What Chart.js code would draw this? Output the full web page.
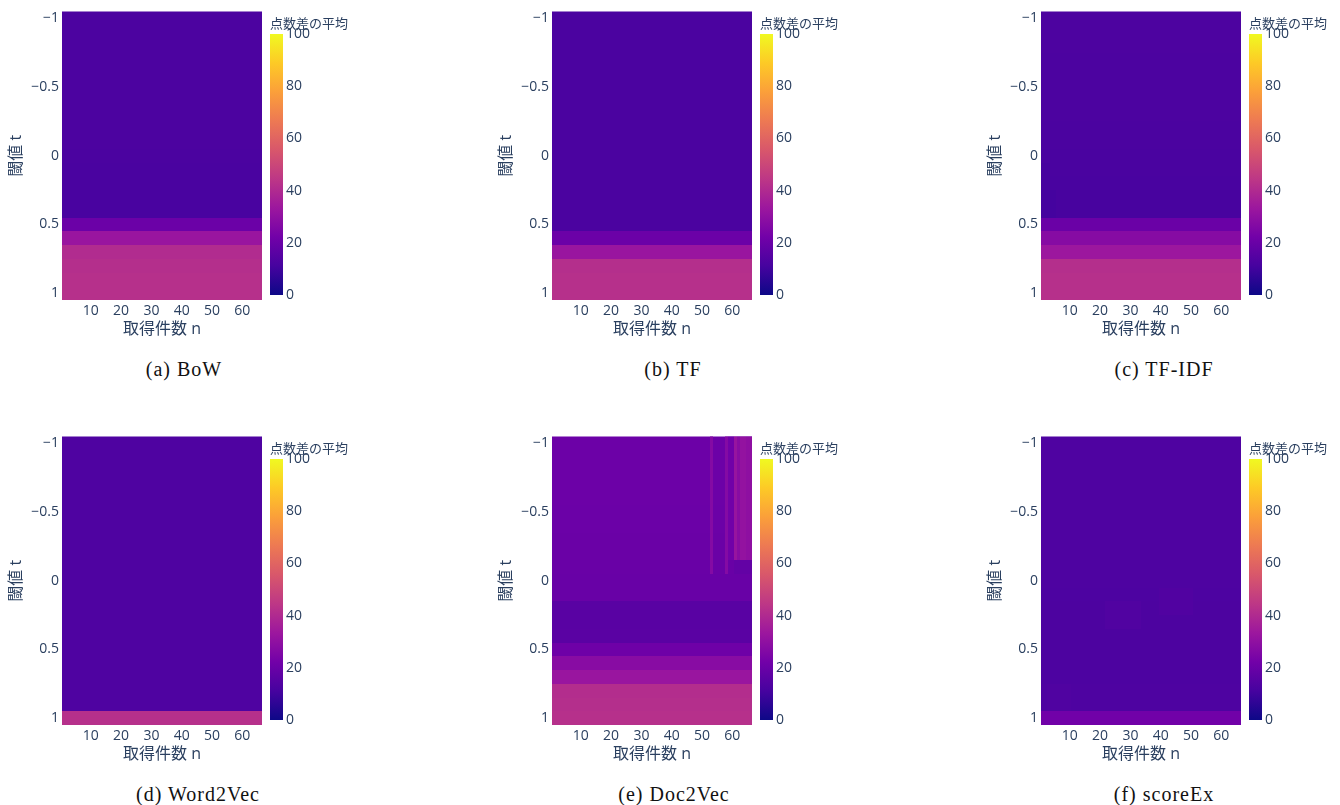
<!DOCTYPE html>
<html lang="ja">
<head>
<meta charset="utf-8">
<title>点数差の平均</title>
<script src="https://cdn.jsdelivr.net/npm/chart.js@4.4.1/dist/chart.umd.min.js"></script>
<style>
  html, body { margin: 0; padding: 0; background: #fff; }
  #page { position: relative; width: 1340px; height: 805px; overflow: hidden; }
  #page canvas { position: absolute; }
  .caption {
    position: absolute; width: 300px; text-align: center;
    font-family: "Liberation Serif", "DejaVu Serif", serif;
    font-size: 20px; line-height: 24px; letter-spacing: 1px; color: #111;
  }
</style>
</head>
<body>
<div id="page"></div>
<script>
// threshold t (rows) and retrieved count n (columns 1..66)
const thresholds = [-1, -0.9, -0.8, -0.7, -0.6, -0.5, -0.4, -0.3, -0.2, -0.1, 0,
                    0.1, 0.2, 0.3, 0.4, 0.5, 0.6, 0.7, 0.8, 0.9, 1];
const nFirst = 1;
const nLast = 66;
const xTicks = [10, 20, 30, 40, 50, 60];
const yTicks = [-1, -0.5, 0, 0.5, 1];
const colorTicks = [0, 20, 40, 60, 80, 100];

const captions = ['(a) BoW', '(b) TF', '(c) TF-IDF', '(d) Word2Vec', '(e) Doc2Vec', '(f) scoreEx'];

// mean score difference per threshold row
const bowRows      = [12.6, 12.6, 12.6, 12.6, 12.6, 12.6, 12.6, 12.6, 12.5, 12.5, 12.4,
                      12.2, 12.0, 11.9, 11.8, 20.5, 32.5, 40.5, 41.5, 42, 42];
const tfRows       = [12.3, 12.3, 12.3, 12.3, 12.3, 12.3, 12.3, 12.3, 12.3, 12.3, 12.3,
                      12.3, 12.3, 12.3, 12.3, 12.3, 20.5, 32.5, 41.5, 42, 42];
const tfidfRows    = [12.8, 12.8, 12.8, 12.7, 12.7, 12.6, 12.6, 12.5, 12.4, 12.3, 12.2,
                      12.0, 11.8, 11.6, 11.6, 20.3, 27.5, 33.5, 41.5, 42, 42];
const word2vecRows = [13.4, 13.4, 13.4, 13.4, 13.4, 13.4, 13.4, 13.4, 13.4, 13.4, 13.4,
                      13.4, 13.4, 13.4, 13.4, 13.4, 13.4, 13.4, 13.4, 13.4, 42];
const doc2vecRows  = [20.8, 20.8, 20.8, 20.7, 20.6, 20.5, 20.4, 20.3, 20.2, 20.0, 19.8,
                      19.6, 16.0, 16.0, 16.2, 21.3, 28.0, 32.5, 41.0, 41.5, 42];
const scoreExRows  = [13.5, 13.5, 13.5, 13.5, 13.4, 13.4, 13.4, 13.3, 13.3, 13.2, 13.2,
                      13.0, 12.9, 12.8, 12.8, 12.8, 12.9, 13.0, 13.1, 13.2, 22];

// cells that differ from their row: [nFrom, nTo, tFrom, tTo, value]
const doc2vecPatches = [
  [53, 53, -1, -0.1, 27], [58, 58, -1, -0.1, 27],
  [59, 60, -1, -0.2, 22], [61, 61, -1, -0.2, 32], [62, 62, -1, -0.2, 28],
  [63, 64, -1, -0.2, 31], [65, 66, -1, -0.2, 29.5], [61, 66, -0.1, -0.1, 18.5]
];
const tfidfPatches = [[1, 5, 0.3, 0.4, 11.0], [1, 3, 0.1, 0.2, 11.3]];
const scoreExPatches = [[22, 33, 0.2, 0.3, 13.8], [40, 50, 0.1, 0.2, 13.9], [3, 10, 0.8, 0.9, 13.7]];

const panelRows = [bowRows, tfRows, tfidfRows, word2vecRows, doc2vecRows, scoreExRows];
const panelPatches = [[], [], tfidfPatches, [], doc2vecPatches, scoreExPatches];
const panelOrigins = [[0, 0], [490, 0], [979, 0], [0, 425], [490, 425], [979, 425]];
const captionCenters = [[184, 369], [673, 369], [1164, 369], [198, 794], [674, 794], [1164, 794]];

const plasmaStops = ['#0d0887', '#46039f', '#7201a8', '#9c179e', '#bd3786',
                     '#d8576b', '#ed7953', '#fb9f3a', '#fdca26', '#f0f921'];
const fontFamily = '"Open Sans", "Noto Sans CJK JP", sans-serif';
const fontColor = '#2a3f5f';

function hexToRgb(h) {
  return [1, 3, 5].map(i => parseInt(h.slice(i, i + 2), 16));
}
function plasma(v) {
  const t = Math.max(0, Math.min(1, v / 100)) * (plasmaStops.length - 1);
  const i = Math.min(Math.floor(t), plasmaStops.length - 2);
  const f = t - i;
  const a = hexToRgb(plasmaStops[i]), b = hexToRgb(plasmaStops[i + 1]);
  const c = a.map((av, k) => Math.round(av + (b[k] - av) * f));
  return `rgb(${c[0]},${c[1]},${c[2]})`;
}

function heatmapPlugin(rows, patches) {
  return {
    id: 'heatmap',
    beforeDatasetsDraw(chart) {
      const { ctx, chartArea, scales: { x, y } } = chart;
      ctx.save();
      ctx.beginPath();
      ctx.rect(chartArea.left, chartArea.top, chartArea.width, chartArea.height);
      ctx.clip();
      const cell = (n0, n1, t0, t1, v) => {
        const xa = Math.round(x.getPixelForValue(n0 - 0.5));
        const xb = Math.round(x.getPixelForValue(n1 + 0.5));
        const ya = Math.round(y.getPixelForValue(t0 - 0.05));
        const yb = Math.round(y.getPixelForValue(t1 + 0.05));
        ctx.fillStyle = plasma(v);
        ctx.fillRect(Math.min(xa, xb), Math.min(ya, yb), Math.abs(xb - xa), Math.abs(yb - ya));
      };
      rows.forEach((v, i) => cell(nFirst, nLast, thresholds[i], thresholds[i], v));
      patches.forEach(p => cell(p[0], p[1], p[2], p[3], p[4]));
      ctx.restore();
    }
  };
}

const colorbarFill = {
  id: 'colorbarFill',
  beforeDatasetsDraw(chart) {
    const { ctx, chartArea: a, scales: { y } } = chart;
    const g = ctx.createLinearGradient(0, y.getPixelForValue(0), 0, y.getPixelForValue(100));
    plasmaStops.forEach((c, i) => g.addColorStop(i / (plasmaStops.length - 1), c));
    ctx.fillStyle = g;
    ctx.fillRect(a.left, a.top, a.width, a.height);
  }
};

function addCanvas(left, top, w, h) {
  const c = document.createElement('canvas');
  c.width = w; c.height = h;
  c.style.left = left + 'px'; c.style.top = top + 'px';
  c.style.width = w + 'px'; c.style.height = h + 'px';
  document.getElementById('page').appendChild(c);
  return c;
}

const tickFont = { family: fontFamily, size: 14 };
const titleFont = { family: fontFamily, size: 16, lineHeight: 1.2 };

panelRows.forEach((rows, p) => {
  const [ox, oy] = panelOrigins[p];

  new Chart(addCanvas(ox, oy, 270, 345), {
    type: 'scatter',
    data: { datasets: [] },
    options: {
      responsive: false,
      animation: false,
      layout: { padding: { left: 0, right: 8, top: 11, bottom: 0 } },
      plugins: { legend: { display: false }, tooltip: { enabled: false } },
      scales: {
        x: {
          type: 'linear', min: nFirst - 0.5, max: nLast + 0.5,
          afterBuildTicks: s => { s.ticks = xTicks.map(v => ({ value: v })); },
          afterFit: s => { s.height = 45; },
          grid: { display: false, drawTicks: false },
          border: { display: false },
          ticks: { color: fontColor, font: tickFont, padding: 3, maxRotation: 0 },
          title: { display: true, text: '取得件数 n', color: fontColor, font: titleFont, padding: { top: 6, bottom: 6 } }
        },
        y: {
          type: 'linear', min: -1.05, max: 1.05, reverse: true,
          afterBuildTicks: s => { s.ticks = yTicks.map(v => ({ value: v })); },
          afterFit: s => { s.width = 62; },
          grid: { display: false, drawTicks: false },
          border: { display: false },
          ticks: {
            color: fontColor, font: tickFont, padding: 3,
            callback: v => (v < 0 ? '\u2212' + Math.abs(v) : String(v))
          },
          title: { display: true, text: '閾値 t', color: fontColor, font: titleFont, padding: { top: 6.5, bottom: 6.5 } }
        }
      }
    },
    plugins: [heatmapPlugin(rows, panelPatches[p])]
  });

  new Chart(addCanvas(ox + 262, oy, 100, 310), {
    type: 'scatter',
    data: { datasets: [] },
    options: {
      responsive: false,
      animation: false,
      layout: { padding: { left: 8, right: 0, top: 0, bottom: 15 } },
      plugins: {
        legend: { display: false },
        tooltip: { enabled: false },
        title: {
          display: true, text: '点数差の平均', align: 'start', color: fontColor,
          font: { family: fontFamily, size: 13, weight: 'normal', lineHeight: 1.2 },
          padding: { top: 16, bottom: 2.4 }
        }
      },
      scales: {
        x: { display: false, min: 0, max: 1 },
        y: {
          position: 'right', min: 0, max: 100,
          afterBuildTicks: s => { s.ticks = colorTicks.map(v => ({ value: v })); },
          afterFit: s => { s.width = 79; },
          grid: { display: false, drawTicks: false },
          border: { display: false },
          ticks: { color: fontColor, font: tickFont, padding: 3 }
        }
      }
    },
    plugins: [colorbarFill]
  });

  const cap = document.createElement('div');
  cap.className = 'caption';
  cap.textContent = captions[p];
  cap.style.left = (captionCenters[p][0] - 150) + 'px';
  cap.style.top = (captionCenters[p][1] - 12) + 'px';
  document.getElementById('page').appendChild(cap);
});
</script>
</body>
</html>
